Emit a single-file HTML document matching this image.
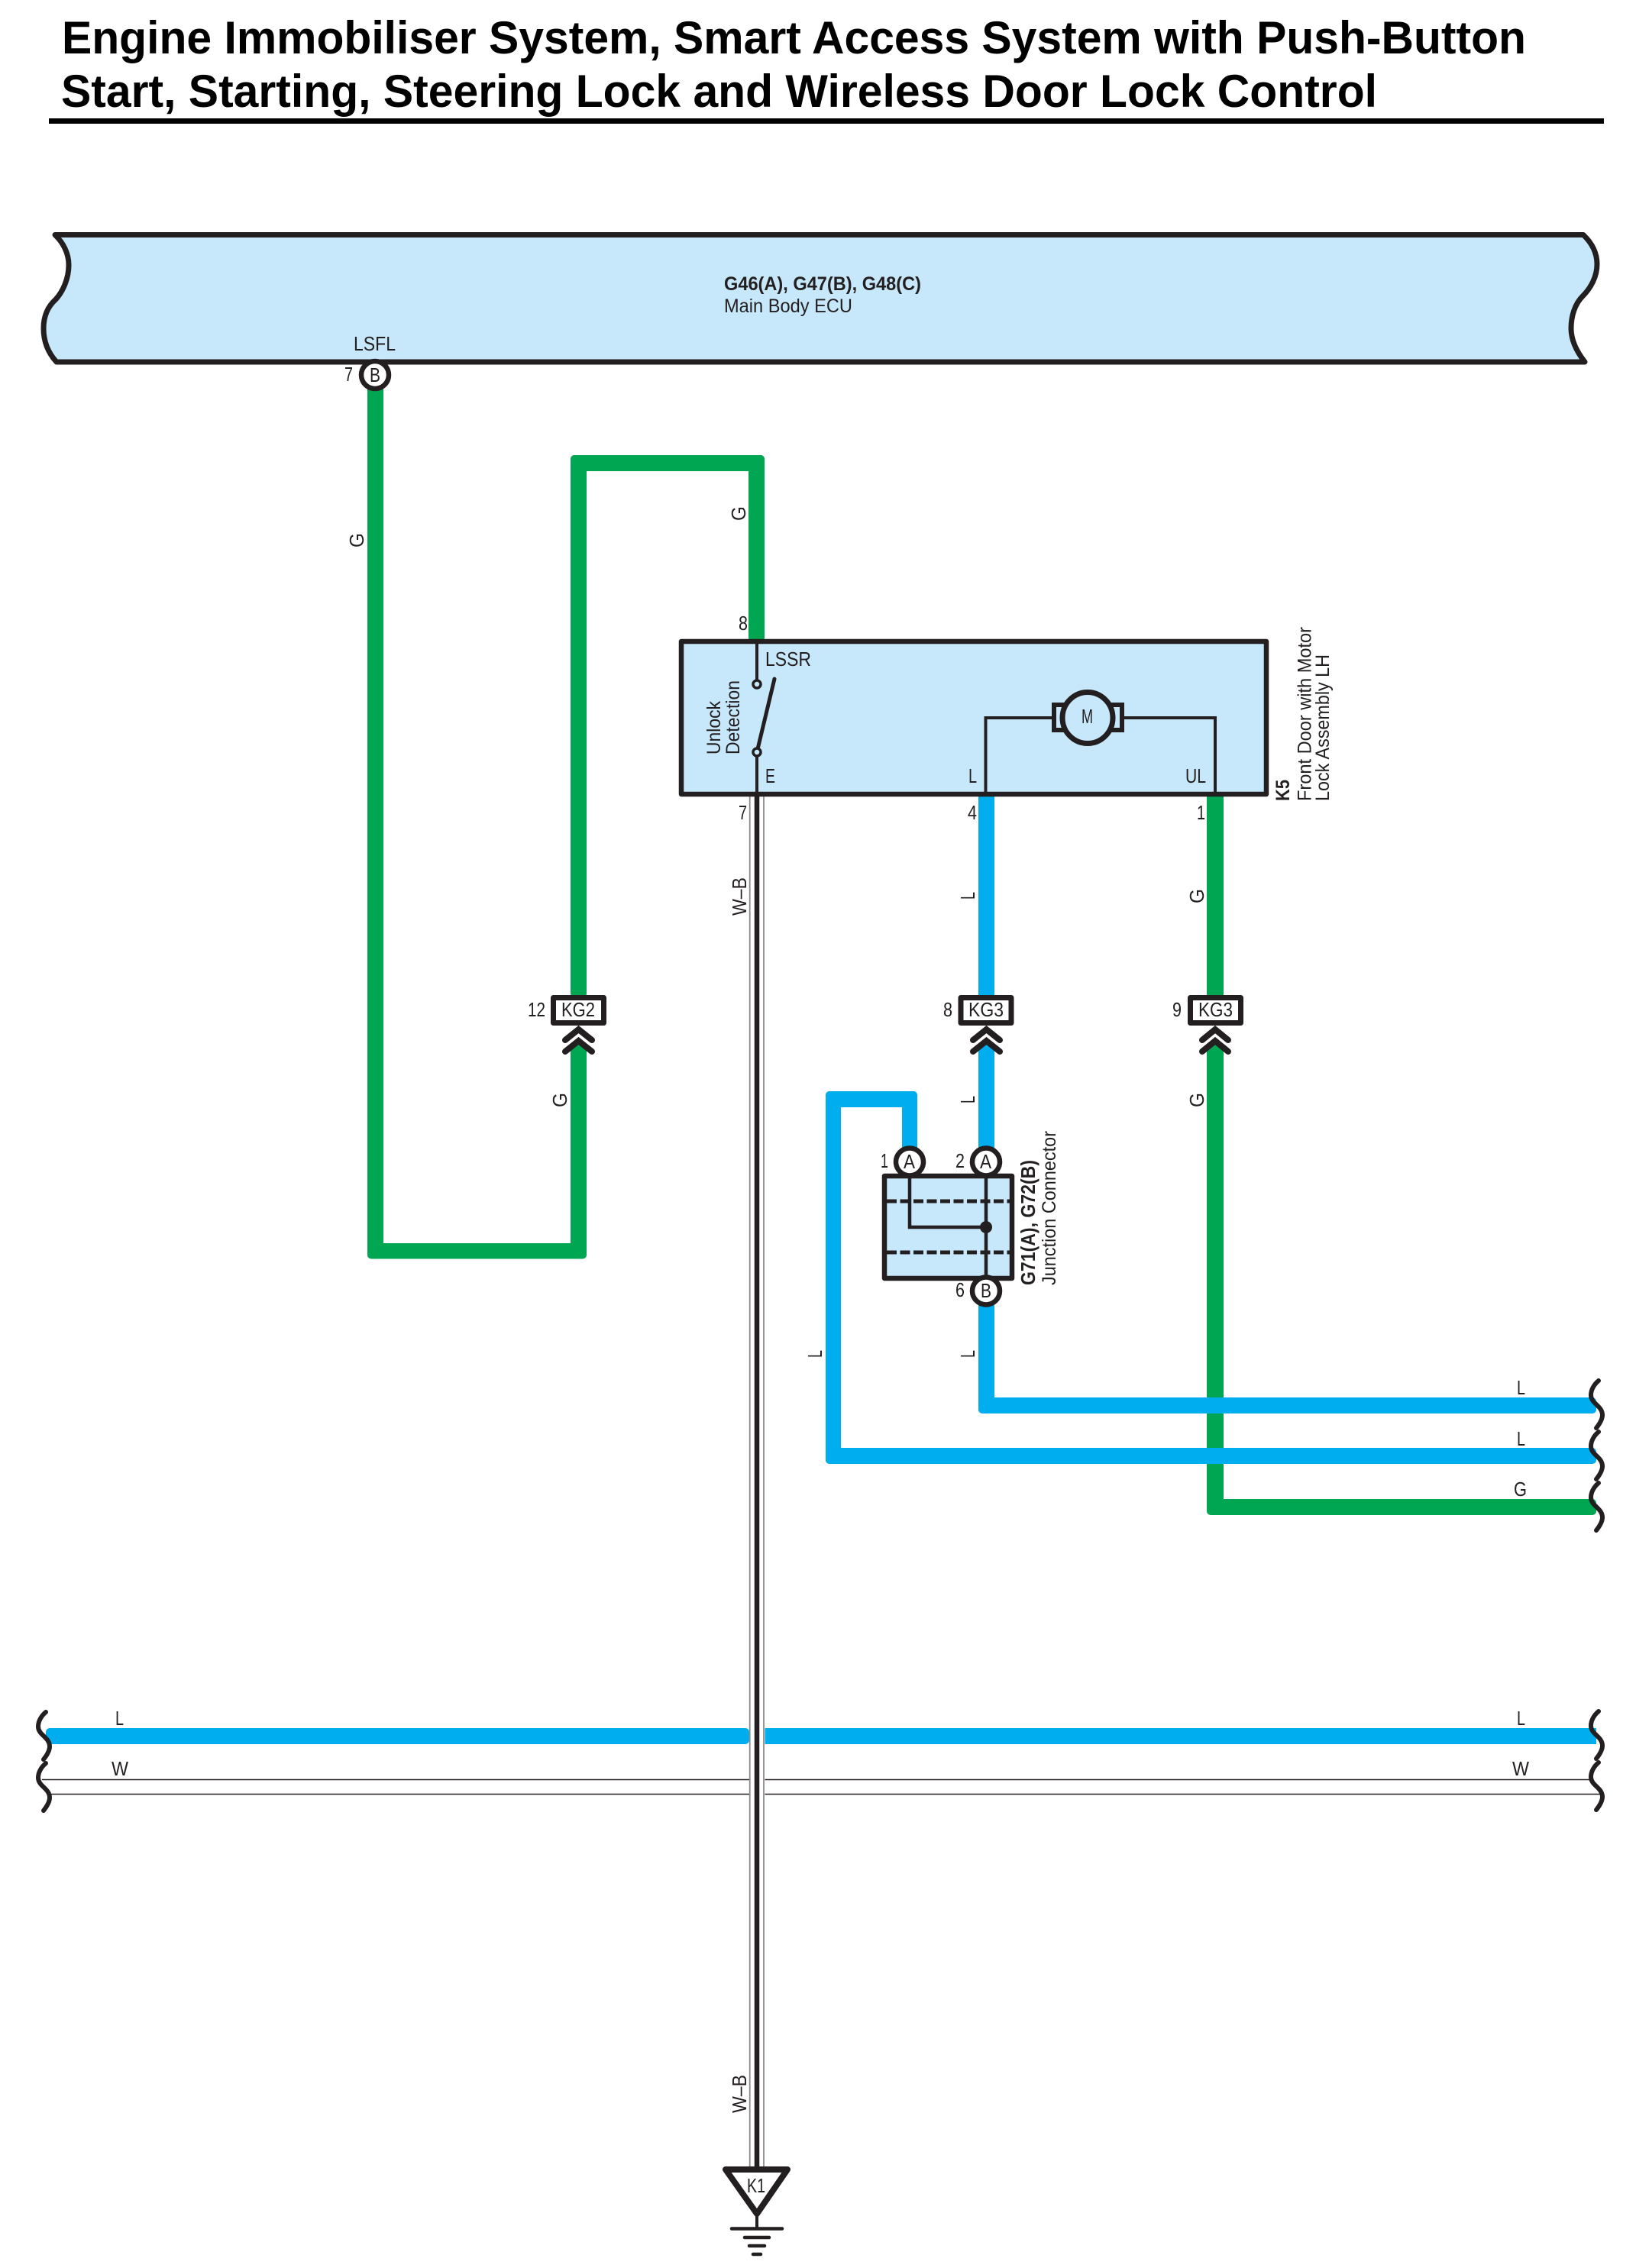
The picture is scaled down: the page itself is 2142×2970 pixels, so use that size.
<!DOCTYPE html>
<html><head><meta charset="utf-8"><style>
html,body{margin:0;padding:0;background:#fff}
svg{display:block}
text{font-family:"Liberation Sans",sans-serif;fill:#231f20;font-size:26px}
.b{font-weight:bold}
.t{font-size:60px;font-weight:bold;fill:#000}
.s{font-size:25px}
</style></head><body>
<svg width="2142" height="2970" viewBox="0 0 2142 2970" xmlns="http://www.w3.org/2000/svg">
<rect width="2142" height="2970" fill="#fff"/>
<text class="t" x="81" y="70" textLength="1917" lengthAdjust="spacingAndGlyphs">Engine Immobiliser System, Smart Access System with Push-Button</text>
<text class="t" x="80" y="140" textLength="1723" lengthAdjust="spacingAndGlyphs">Start, Starting, Steering Lock and Wireless Door Lock Control</text>
<rect x="64" y="155" width="2036" height="7" fill="#000"/>

<!-- ECU -->
<path d="M72,307.5 L2073,307.5 C2084,318 2091,331 2091,346 C2091,362 2083,377 2072,388 C2062,398 2057,414 2057,430 C2057,445 2064,460 2075,474 L74,474 C63,462 57,447 57,430 C57,414 63,401 73,392 C83,381 90,364 90,347 C90,332 83,318 72,307.5 Z" fill="#c7e8fa" stroke="#231f20" stroke-width="7" stroke-linejoin="round"/>
<text class="s b" x="948" y="380" textLength="258" lengthAdjust="spacingAndGlyphs">G46(A), G47(B), G48(C)</text>
<text class="s" x="948" y="409" textLength="168" lengthAdjust="spacingAndGlyphs">Main Body ECU</text>
<text x="463" y="459" textLength="55" lengthAdjust="spacingAndGlyphs">LSFL</text>

<!-- green wires -->
<g fill="#00a651">
<rect x="481" y="500" width="21" height="1140"/>
<rect x="481" y="1628" width="287" height="20.5" rx="5"/>
<rect x="747" y="596" width="21" height="710" rx="5"/>
<rect x="747" y="596" width="254" height="21" rx="5"/>
<rect x="980" y="596" width="21" height="244" rx="5"/>
<polygon points="747,1640 747,1373 757.5,1365 768,1373 768,1640"/>
<rect x="1580" y="1040" width="22" height="266"/>
<polygon points="1580,1975 1580,1373 1591,1365 1602,1373 1602,1975"/>
<rect x="1580" y="1963" width="510" height="21" rx="5"/>
</g>

<!-- blue wires -->
<g fill="#00aeef">
<rect x="1281" y="1040" width="21" height="266"/>
<polygon points="1281,1510 1281,1373 1291.5,1365 1302,1373 1302,1510"/>
<rect x="1081" y="1429" width="120" height="21" rx="5"/>
<rect x="1181" y="1429" width="20" height="80" rx="5"/>
<rect x="1081" y="1429" width="20" height="488" rx="5"/>
<rect x="1081" y="1896" width="1009" height="21" rx="5"/>
<rect x="1281" y="1700" width="21" height="142"/>
<rect x="1281" y="1830" width="809" height="21" rx="5"/>
<rect x="60" y="2263" width="921" height="21" rx="5"/>
<rect x="1001.5" y="2263" width="1088.5" height="21" rx="0"/>
</g>

<!-- W lines -->
<g stroke="#231f20" stroke-width="1.6">
<line x1="55" y1="2330.5" x2="981" y2="2330.5"/>
<line x1="66" y1="2349.5" x2="981" y2="2349.5"/>
<line x1="1001.5" y1="2330.5" x2="2084" y2="2330.5"/>
<line x1="1001.5" y1="2349.5" x2="2097" y2="2349.5"/>
</g>

<!-- W-B -->
<g stroke="#8a8a8a" stroke-width="1.8">
<line x1="981.7" y1="1043" x2="981.7" y2="2840"/>
<line x1="1000" y1="1043" x2="1000" y2="2840"/>
</g>
<line x1="991" y1="1040" x2="991" y2="2842" stroke="#231f20" stroke-width="6.5"/>

<!-- K5 -->
<rect x="892" y="840" width="766" height="200" fill="#c7e8fa" stroke="#231f20" stroke-width="6.5" stroke-linejoin="round"/>
<g fill="none" stroke="#231f20">
<path d="M991,843 V890 M991,991 V1040" stroke-width="4"/>
<path d="M1290.5,1040 V940 H1380 M1468,940 H1591 V1040" stroke-width="4"/>
<line x1="991" y1="985" x2="1014" y2="889" stroke-width="5" stroke-linecap="round"/>
<circle cx="991" cy="896" r="5" fill="#c7e8fa" stroke-width="3.5"/>
<circle cx="991" cy="985" r="5" fill="#c7e8fa" stroke-width="3.5"/>
<rect x="1380" y="923" width="22" height="33" fill="#c7e8fa" stroke-width="6"/>
<rect x="1447" y="923" width="22" height="33" fill="#c7e8fa" stroke-width="6"/>
<ellipse cx="1424" cy="940" rx="33" ry="33.5" fill="#c7e8fa" stroke-width="7"/>
</g>
<text x="1416" y="947" textLength="15" lengthAdjust="spacingAndGlyphs">M</text>
<text x="1002" y="872" textLength="60" lengthAdjust="spacingAndGlyphs">LSSR</text>
<text x="1002" y="1025" textLength="13" lengthAdjust="spacingAndGlyphs">E</text>
<text x="1268" y="1025" textLength="11" lengthAdjust="spacingAndGlyphs">L</text>
<text x="1552" y="1025" textLength="27" lengthAdjust="spacingAndGlyphs">UL</text>
<text class="s" transform="translate(943,988) rotate(-90)" textLength="70" lengthAdjust="spacingAndGlyphs">Unlock</text>
<text class="s" transform="translate(968,988) rotate(-90)" textLength="97" lengthAdjust="spacingAndGlyphs">Detection</text>
<text class="s b" transform="translate(1688,1049) rotate(-90)" textLength="28" lengthAdjust="spacingAndGlyphs">K5</text>
<text class="s" transform="translate(1716.5,1049) rotate(-90)" textLength="228" lengthAdjust="spacingAndGlyphs">Front Door with Motor</text>
<text class="s" transform="translate(1740,1049) rotate(-90)" textLength="192" lengthAdjust="spacingAndGlyphs">Lock Assembly LH</text>

<!-- pin numbers -->
<text x="451" y="499" textLength="11" lengthAdjust="spacingAndGlyphs">7</text>
<text x="967" y="825" textLength="12" lengthAdjust="spacingAndGlyphs">8</text>
<text x="967" y="1073" textLength="11" lengthAdjust="spacingAndGlyphs">7</text>
<text x="1267" y="1073" textLength="12" lengthAdjust="spacingAndGlyphs">4</text>
<text x="1567" y="1073" textLength="11" lengthAdjust="spacingAndGlyphs">1</text>
<text x="1235" y="1331" textLength="12" lengthAdjust="spacingAndGlyphs">8</text>
<text x="1535" y="1331" textLength="12" lengthAdjust="spacingAndGlyphs">9</text>
<text x="691" y="1331" textLength="23" lengthAdjust="spacingAndGlyphs">12</text>

<!-- inline connectors -->
<g fill="#fff" stroke="#231f20" stroke-width="7" stroke-linejoin="round">
<rect x="724.5" y="1306.5" width="66" height="33"/>
<rect x="1258" y="1306.5" width="66" height="33"/>
<rect x="1558.5" y="1306.5" width="66" height="33"/>
</g>
<text x="735" y="1331" textLength="44" lengthAdjust="spacingAndGlyphs">KG2</text>
<text x="1268" y="1331" textLength="46" lengthAdjust="spacingAndGlyphs">KG3</text>
<text x="1569" y="1331" textLength="45" lengthAdjust="spacingAndGlyphs">KG3</text>
<g fill="none" stroke="#231f20" stroke-width="8" stroke-linecap="round" stroke-linejoin="miter">
<path d="M740,1362 L757.5,1348 L775,1362 M740,1377 L757.5,1363 L775,1377"/>
<path d="M1274,1362 L1291.5,1348 L1309,1362 M1274,1377 L1291.5,1363 L1309,1377"/>
<path d="M1574,1362 L1591,1348 L1608,1362 M1574,1377 L1591,1363 L1608,1377"/>
</g>

<!-- junction -->
<rect x="1158" y="1540" width="167" height="134" fill="#c7e8fa" stroke="#231f20" stroke-width="6.5" stroke-linejoin="round"/>
<g stroke="#231f20" fill="none">
<path d="M1161,1573 H1322 M1161,1640 H1322" stroke-width="5" stroke-dasharray="13 4.5"/>
<path d="M1191,1540 V1607 H1291 M1291,1540 V1674" stroke-width="4.5"/>
</g>
<circle cx="1291" cy="1607" r="8" fill="#231f20"/>
<g fill="#fff" stroke="#231f20" stroke-width="6.5">
<circle cx="491" cy="491" r="18"/>
<circle cx="1191" cy="1521.5" r="18"/>
<circle cx="1291" cy="1521.5" r="18"/>
<circle cx="1291" cy="1690.5" r="18"/>
</g>
<text x="484" y="500" textLength="14" lengthAdjust="spacingAndGlyphs">B</text>
<text x="1183" y="1530" textLength="15" lengthAdjust="spacingAndGlyphs">A</text>
<text x="1283" y="1530" textLength="15" lengthAdjust="spacingAndGlyphs">A</text>
<text x="1284" y="1699" textLength="14" lengthAdjust="spacingAndGlyphs">B</text>
<text x="1153" y="1529" textLength="10" lengthAdjust="spacingAndGlyphs">1</text>
<text x="1251" y="1529" textLength="12" lengthAdjust="spacingAndGlyphs">2</text>
<text x="1251" y="1698" textLength="12" lengthAdjust="spacingAndGlyphs">6</text>
<text class="b" transform="translate(1355,1683) rotate(-90)" textLength="164" lengthAdjust="spacingAndGlyphs">G71(A), G72(B)</text>
<text class="s" transform="translate(1382,1683) rotate(-90)" textLength="202" lengthAdjust="spacingAndGlyphs">Junction Connector</text>

<!-- wire labels rotated -->
<text transform="translate(476,717) rotate(-90)" textLength="19" lengthAdjust="spacingAndGlyphs">G</text>
<text transform="translate(976,682) rotate(-90)" textLength="19" lengthAdjust="spacingAndGlyphs">G</text>
<text transform="translate(742,1450) rotate(-90)" textLength="19" lengthAdjust="spacingAndGlyphs">G</text>
<text transform="translate(1576,1183) rotate(-90)" textLength="19" lengthAdjust="spacingAndGlyphs">G</text>
<text transform="translate(1576,1450) rotate(-90)" textLength="19" lengthAdjust="spacingAndGlyphs">G</text>
<text transform="translate(1276,1178) rotate(-90)" textLength="10" lengthAdjust="spacingAndGlyphs">L</text>
<text transform="translate(1276,1445) rotate(-90)" textLength="10" lengthAdjust="spacingAndGlyphs">L</text>
<text transform="translate(1276,1778) rotate(-90)" textLength="10" lengthAdjust="spacingAndGlyphs">L</text>
<text transform="translate(1076,1778) rotate(-90)" textLength="10" lengthAdjust="spacingAndGlyphs">L</text>
<text transform="translate(977,1199) rotate(-90)" textLength="50" lengthAdjust="spacingAndGlyphs">W–B</text>
<text transform="translate(977,2767) rotate(-90)" textLength="50" lengthAdjust="spacingAndGlyphs">W–B</text>

<!-- wire labels horizontal -->
<text x="1986" y="1826" textLength="11" lengthAdjust="spacingAndGlyphs">L</text>
<text x="1986" y="1893" textLength="11" lengthAdjust="spacingAndGlyphs">L</text>
<text x="1982" y="1959" textLength="17" lengthAdjust="spacingAndGlyphs">G</text>
<text x="1986" y="2259" textLength="11" lengthAdjust="spacingAndGlyphs">L</text>
<text x="1980" y="2325" textLength="22" lengthAdjust="spacingAndGlyphs">W</text>
<text x="151" y="2259" textLength="11" lengthAdjust="spacingAndGlyphs">L</text>
<text x="146" y="2325" textLength="22" lengthAdjust="spacingAndGlyphs">W</text>

<!-- squiggles -->
<defs><path id="sq" d="M0,0 C-6,5 -10,12 -10,19 C-10,30 5,33 5,45 C5,51 1,57 -3,62" fill="none" stroke="#231f20" stroke-width="6" stroke-linecap="round"/></defs>
<use href="#sq" x="2093" y="1808"/>
<use href="#sq" x="2093" y="1875"/>
<use href="#sq" x="2093" y="1942"/>
<use href="#sq" x="2093" y="2241"/>
<use href="#sq" x="2093" y="2308"/>
<use href="#sq" x="60" y="2242"/>
<use href="#sq" x="60" y="2309"/>

<!-- ground -->
<path d="M950,2841 H1031 L991,2899 Z" fill="#fff" stroke="#231f20" stroke-width="8" stroke-linejoin="round"/>
<text x="978" y="2871" textLength="24" lengthAdjust="spacingAndGlyphs">K1</text>
<g stroke="#231f20" stroke-linecap="round" fill="none">
<line x1="991" y1="2899" x2="991" y2="2918" stroke-width="4"/>
<line x1="958" y1="2918.5" x2="1024" y2="2918.5" stroke-width="4.5"/>
<line x1="975" y1="2930" x2="1007" y2="2930" stroke-width="4.5"/>
<line x1="981" y1="2941" x2="1001" y2="2941" stroke-width="4.5"/>
<line x1="986" y1="2952" x2="996" y2="2952" stroke-width="4.5"/>
</g>
</svg>
</body></html>
